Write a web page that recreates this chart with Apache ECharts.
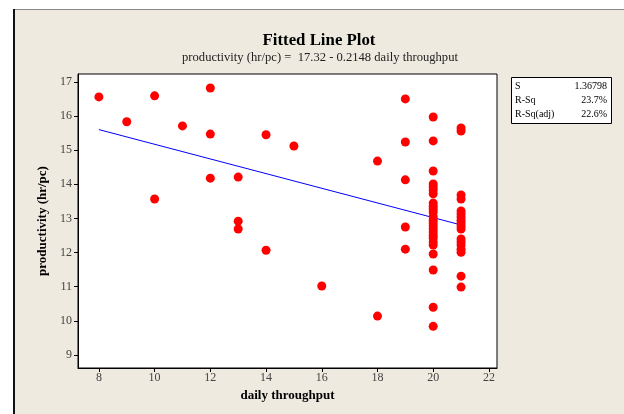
<!DOCTYPE html>
<html>
<head>
<meta charset="utf-8">
<script src="https://cdn.jsdelivr.net/npm/echarts@6/dist/echarts.min.js"></script>
<style>
html,body{margin:0;padding:0;background:#fff;}
#c{width:624px;height:414px;}
</style>
</head>
<body>
<div id="c"></div>
<script>
// ---- data ----
var throughput = [
  8, 9, 10, 10, 11, 12, 12, 12, 13, 13, 13, 14, 14, 15, 16, 18, 18,
  19, 19, 19, 19, 19,
  20, 20, 20, 20, 20, 20, 20, 20, 20, 20, 20, 20, 20, 20, 20, 20, 20, 20, 20, 20, 20, 20, 20, 20, 20,
  21, 21, 21, 21, 21, 21, 21, 21, 21, 21, 21, 21, 21, 21, 21, 21, 21, 21
];
var productivity = [
  16.56, 15.83, 16.59, 13.57, 15.71, 16.82, 15.47, 14.18, 14.21, 12.92, 12.69, 15.45, 12.07, 15.12, 11.02, 14.68, 10.14,
  16.50, 15.24, 14.13, 12.75, 12.10,
  15.97, 15.27, 14.39, 14.01, 13.92, 13.83, 13.72, 13.45, 13.36, 13.28, 13.19, 13.05, 12.95, 12.87, 12.78, 12.69, 12.60, 12.51, 12.43, 12.31, 12.22, 11.96, 11.49, 10.40, 9.84,
  15.65, 15.56, 13.69, 13.57, 13.22, 13.13, 13.04, 12.95, 12.87, 12.78, 12.69, 12.40, 12.31, 12.22, 12.10, 12.01, 11.31, 10.99
];
var fitIntercept = 17.32;
var fitSlope = -0.2148;
var fitRange = [8, 21];
var xTicks = [8, 10, 12, 14, 16, 18, 20, 22];
var yTicks = [9, 10, 11, 12, 13, 14, 15, 16, 17];
var statLabels = ['S', 'R-Sq', 'R-Sq(adj)'];
var statValues = ['1.36798', '23.7%', '22.6%'];
var titleText = 'Fitted Line Plot';
var subtitleText = 'productivity (hr/pc) =  17.32 - 0.2148 daily throughput';
var xName = 'daily throughput';
var yName = 'productivity (hr/pc)';

// ---- build ----
var points = throughput.map(function (x, i) { return [x, productivity[i]]; });
var fitLine = fitRange.map(function (x) { return [x, fitIntercept + fitSlope * x]; });

var SERIF = '"Liberation Serif","DejaVu Serif",serif';
var chart = echarts.init(document.getElementById('c'), null, {renderer: 'canvas'});

var graphics = [
  // outer panel
  {type: 'rect', shape: {x: 14, y: 9, width: 620, height: 420}, style: {fill: '#EEEAE0', stroke: null}, z: -10, silent: true},
  {type: 'line', shape: {x1: 14, y1: 9.5, x2: 624, y2: 9.5}, style: {stroke: '#888', lineWidth: 1}, z: -9},
  {type: 'line', shape: {x1: 14, y1: 9, x2: 14, y2: 414}, style: {stroke: '#111', lineWidth: 2}, z: -9},
  {type: 'text', x: 319, y: 41, scaleX: 1.05, style: {text: titleText, font: 'bold 16px ' + SERIF, fill: '#000', textAlign: 'center', textVerticalAlign: 'middle'}},
  {type: 'text', x: 320, y: 58, scaleX: 1.05, style: {text: subtitleText, font: '12px ' + SERIF, fill: '#222', textAlign: 'center', textVerticalAlign: 'middle'}},
  // stats box
  {type: 'rect', shape: {x: 511.5, y: 77.5, width: 100, height: 46}, style: {fill: '#fff', stroke: '#000', lineWidth: 1}}
];
statLabels.forEach(function (s, i) {
  graphics.push({type: 'text', x: 515, y: 86 + i * 14, style: {text: s, font: '10px ' + SERIF, fill: '#000', textAlign: 'left', textVerticalAlign: 'middle'}});
  graphics.push({type: 'text', x: 607, y: 86 + i * 14, style: {text: statValues[i], font: '10px ' + SERIF, fill: '#000', textAlign: 'right', textVerticalAlign: 'middle'}});
});

chart.setOption({
  backgroundColor: '#ffffff',
  animation: false,
  graphic: graphics,
  grid: {left: 78, right: 127, top: 74, bottom: 46, show: true, backgroundColor: '#fff', borderColor: '#000', borderWidth: 1},
  xAxis: {
    type: 'value', min: 7.25, max: 22.29,
    name: xName, nameLocation: 'middle', nameGap: 14,
    nameTextStyle: {fontFamily: SERIF, fontWeight: 'bold', fontSize: 13, color: '#000'},
    axisLine: {show: true, onZero: false, lineStyle: {color: '#000', width: 1}},
    axisTick: {show: true, length: 4, customValues: xTicks, lineStyle: {color: '#000'}},
    axisLabel: {customValues: xTicks, fontFamily: SERIF, fontSize: 12, color: '#444', margin: 4},
    splitLine: {show: false}
  },
  yAxis: {
    type: 'value', min: 8.62, max: 17.23,
    name: yName, nameLocation: 'middle', nameGap: 29,
    nameTextStyle: {fontFamily: SERIF, fontWeight: 'bold', fontSize: 13, color: '#000'},
    axisLine: {show: true, onZero: false, lineStyle: {color: '#000', width: 1}},
    axisTick: {show: true, length: 4, customValues: yTicks, lineStyle: {color: '#000'}},
    axisLabel: {customValues: yTicks, fontFamily: SERIF, fontSize: 12, color: '#444', margin: 6},
    splitLine: {show: false}
  },
  series: [
    {type: 'scatter', data: points, symbol: 'circle', symbolSize: 9, itemStyle: {color: '#FF0000', opacity: 1}, z: 3},
    {type: 'line', data: fitLine, showSymbol: false, symbol: 'none', lineStyle: {color: '#0000FF', width: 1}, z: 2}
  ]
});
</script>
</body>
</html>
